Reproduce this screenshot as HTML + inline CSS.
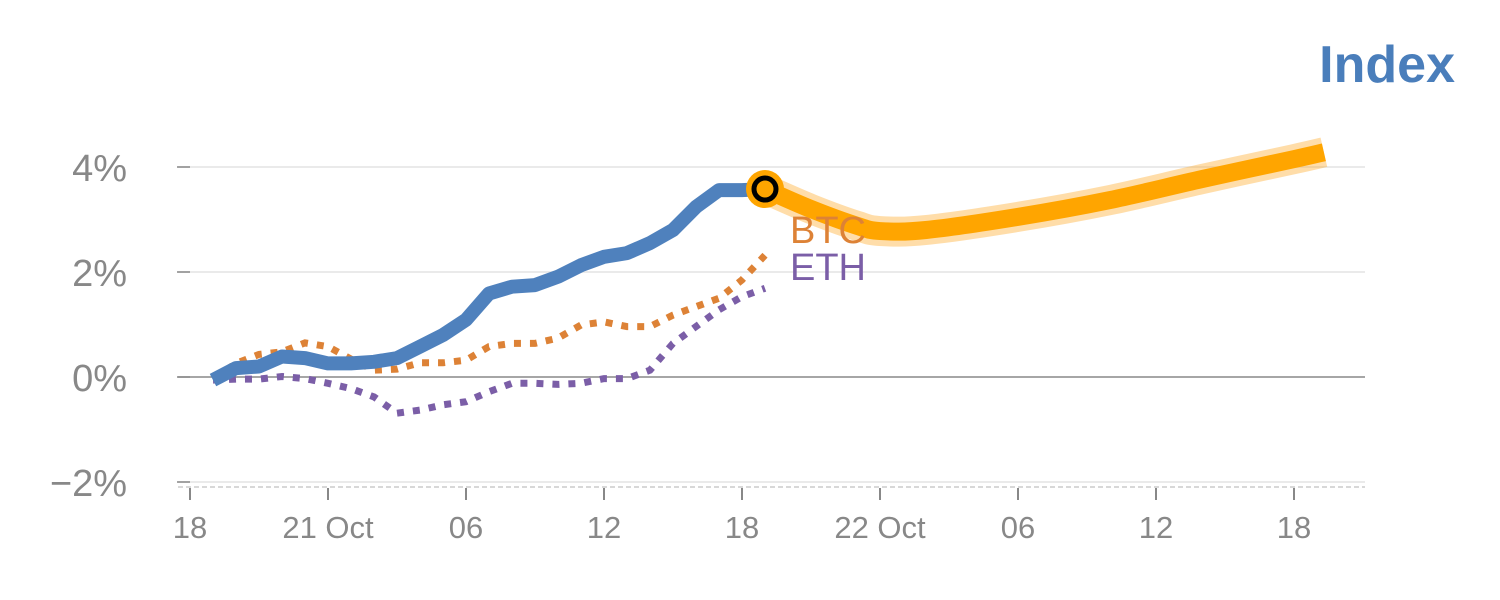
<!DOCTYPE html>
<html><head><meta charset="utf-8"><style>
body{margin:0;background:#fff}
svg{display:block;font-family:"Liberation Sans",sans-serif}
</style></head><body>
<svg id="c" width="1500" height="600">
<text x="1455" y="82" text-anchor="end" font-size="52" font-weight="bold" fill="#4a7ebb">Index</text>
<g id="grid"></g><g id="series"></g>
</svg>
<script>
const yTicks=[-2,0,2,4];
const xTickHours=[0,6,12,18,24,30,36,42,48];
const xTickLabels=["18","21 Oct","06","12","18","22 Oct","06","12","18"];
const indexHours=[1,2,3,4,5,6,7,8,9,10,11,12,13,14,15,16,17,18,19,20,21,22,23,24,25];
const indexVals=[-0.06,0.17,0.2,0.39,0.36,0.26,0.26,0.29,0.36,0.58,0.8,1.09,1.59,1.72,1.75,1.91,2.13,2.29,2.36,2.55,2.8,3.24,3.56,3.56,3.58];
const btcVals=[-0.03,0.26,0.43,0.48,0.65,0.58,0.34,0.13,0.15,0.27,0.27,0.32,0.58,0.64,0.64,0.74,0.99,1.05,0.96,0.96,1.18,1.34,1.5,1.85,2.32];
const ethVals=[-0.06,-0.04,-0.04,0.01,-0.03,-0.12,-0.22,-0.38,-0.69,-0.63,-0.53,-0.47,-0.28,-0.12,-0.12,-0.14,-0.12,-0.03,-0.03,0.13,0.64,0.96,1.28,1.53,1.69];
const fcHours=[25,27,29,30,32,36,40,44,48,49.3];
const fcVals=[3.58,3.2,2.88,2.78,2.8,3.05,3.37,3.77,4.15,4.28];
const NS="http://www.w3.org/2000/svg";
const X=h=>190+23*h, Y=v=>377-52.5*v;
function mk(tag,attrs,parent){const e=document.createElementNS(NS,tag);for(const k in attrs)e.setAttribute(k,attrs[k]);parent.appendChild(e);return e;}
const G=document.getElementById('grid'),S=document.getElementById('series');
yTicks.forEach(v=>{
 const l=mk('line',{x1:178,x2:1365,y1:Y(v),y2:Y(v),stroke:v===0?'#888':'#e3e3e3','stroke-width':1.5},G);
 
 
 const tk=mk('line',{x1:177,x2:190,y1:Y(v),y2:Y(v),stroke:'#888','stroke-width':1.5},G);
 
 
 const t=mk('text',{x:127,y:Y(v)+14,'text-anchor':'end','font-size':38,fill:'#888'},G);
 t.textContent=(v<0?'\u2212':'')+Math.abs(v)+'%';
 
 
});
const ax=mk('line',{x1:178,x2:1365,y1:487,y2:487,stroke:'#ccc','stroke-width':1.5,'stroke-dasharray':'5,3'},G);


xTickHours.forEach((h,i)=>{
 const tk=mk('line',{x1:X(h),x2:X(h),y1:488,y2:500,stroke:'#888','stroke-width':2},G);
 
 
 const t=mk('text',{x:X(h),y:538,'text-anchor':'middle','font-size':31,fill:'#888'},G);
 t.textContent=xTickLabels[i];
 
 
});
const pts=(hs,vs)=>hs.map((h,i)=>X(h).toFixed(1)+','+Y(vs[i]).toFixed(1)).join(' ');
function smooth(hs,vs){const p=hs.map((h,i)=>[X(h),Y(vs[i])]);let d='M'+p[0];for(let i=0;i<p.length-1;i++){const a=p[i-1]||p[i],b=p[i],c=p[i+1],e=p[i+2]||c;d+=' C'+(b[0]+(c[0]-a[0])/6)+','+(b[1]+(c[1]-a[1])/6)+' '+(c[0]-(e[0]-b[0])/6)+','+(c[1]-(e[1]-b[1])/6)+' '+c;}return d;}
let e=mk('polyline',{points:pts(indexHours,ethVals),fill:'none',stroke:'#7b5ea7','stroke-width':7,'stroke-dasharray':'7,9'},S);


e=mk('polyline',{points:pts(indexHours,btcVals),fill:'none',stroke:'#dd8236','stroke-width':7,'stroke-dasharray':'7,9'},S);


e=mk('polyline',{points:pts(indexHours,indexVals),fill:'none',stroke:'#4f81bd','stroke-width':14,'stroke-linejoin':'round'},S);


e=mk('path',{d:smooth(fcHours,fcVals),fill:'none',stroke:'rgba(255,170,40,0.4)','stroke-width':30},S);


e=mk('path',{d:smooth(fcHours,fcVals),fill:'none',stroke:'#ffa500','stroke-width':18},S);


const lh=indexHours[indexHours.length-1],lv=indexVals[indexVals.length-1];
e=mk('circle',{cx:X(lh),cy:Y(lv),r:19,fill:'#ffa500'},S);


mk('circle',{cx:X(lh),cy:Y(lv),r:11,fill:'#ffa500',stroke:'#000','stroke-width':5},S);
e=mk('text',{x:790,y:243,'font-size':38,fill:'#dd8236'},S);e.textContent='BTC';


e=mk('text',{x:790,y:280,'font-size':38,fill:'#7b5ea7'},S);e.textContent='ETH';


</script>
</body></html>
